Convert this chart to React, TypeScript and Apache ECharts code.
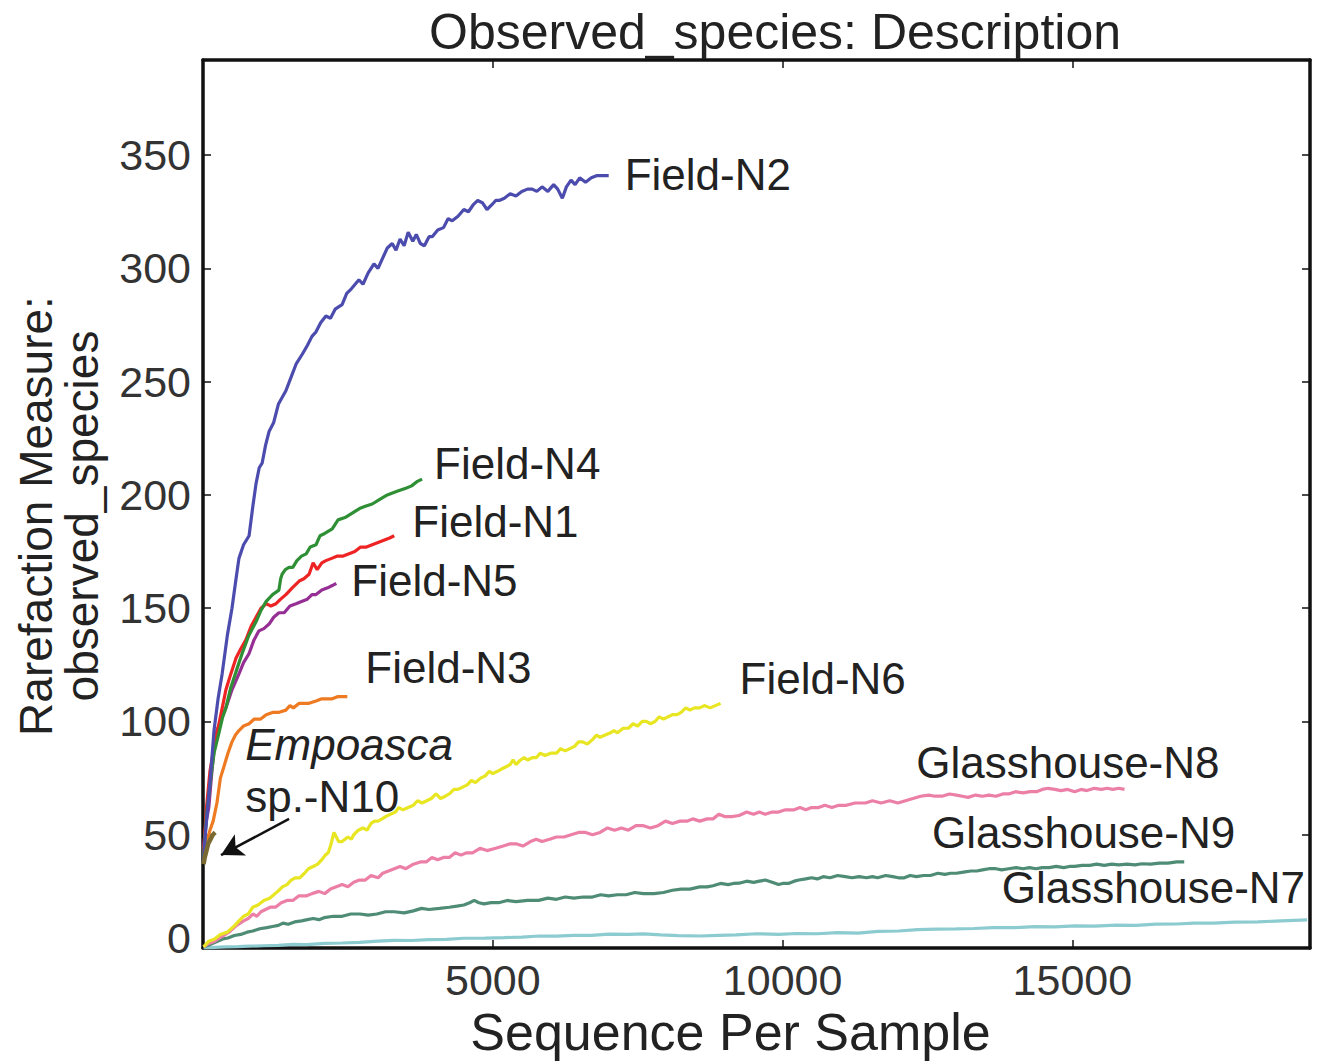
import React, { useEffect, useRef } from "react";
import * as echarts from "echarts";

// ---------- data ----------
const xTicks = [5000, 10000, 15000];
const yTicks = [0, 50, 100, 150, 200, 250, 300, 350];

const fieldN2: number[][] = [
  [10, 38], [40, 50], [80, 62], [130, 76], [190, 96], [260, 110], [330, 121], [420, 138], [500, 150], [570, 163],
  [620, 172], [700, 178], [795, 182], [860, 195], [915, 205], [970, 212], [1020, 214], [1080, 222], [1140, 228],
  [1220, 232], [1300, 240], [1430, 246], [1520, 252], [1610, 258], [1710, 262], [1800, 266], [1880, 270],
  [1950, 272], [2030, 276], [2120, 279], [2200, 278], [2280, 282], [2400, 284], [2480, 289], [2560, 291],
  [2690, 295], [2760, 293], [2850, 298], [2950, 302], [3020, 300], [3090, 304], [3180, 309], [3265, 311],
  [3330, 308], [3400, 313], [3470, 310], [3540, 316], [3620, 312], [3680, 315], [3750, 311], [3820, 310],
  [3900, 314], [3955, 314], [4050, 317], [4150, 318], [4230, 322], [4300, 321], [4400, 323], [4500, 326],
  [4580, 325], [4660, 328], [4740, 330], [4820, 329], [4900, 326], [4980, 328], [5050, 330], [5110, 330],
  [5200, 331], [5300, 333], [5400, 332], [5500, 334], [5600, 335], [5680, 335], [5760, 334], [5850, 336],
  [5950, 334], [6050, 337], [6120, 335], [6200, 331], [6270, 336], [6350, 339], [6420, 337], [6500, 340],
  [6600, 338], [6700, 340], [6800, 341], [6900, 341], [7000, 341],
];
const fieldN4: number[][] = [
  [10, 40], [60, 58], [120, 72], [190, 86], [275, 95], [340, 102], [395, 106], [480, 115], [570, 122], [675, 130],
  [790, 138], [915, 144], [1000, 149], [1090, 153], [1200, 156], [1310, 158], [1340, 163], [1365, 165],
  [1420, 167], [1485, 168], [1550, 168], [1620, 171], [1700, 173], [1780, 174], [1850, 177], [1950, 178],
  [2020, 182], [2100, 183], [2230, 185], [2330, 189], [2450, 190], [2575, 192], [2700, 194], [2800, 195],
  [2920, 196], [3050, 198], [3180, 200], [3280, 201], [3385, 202], [3500, 203], [3600, 204], [3700, 206],
  [3780, 207],
];
const fieldN1: number[][] = [
  [10, 42], [60, 62], [120, 78], [200, 90], [275, 99], [340, 107], [395, 114], [480, 121], [570, 128], [650, 132],
  [740, 136], [830, 142], [915, 146], [1000, 150], [1090, 152], [1170, 151], [1260, 152], [1340, 154],
  [1430, 156], [1540, 159], [1660, 162], [1740, 163], [1830, 165], [1900, 170], [1970, 167], [2050, 170],
  [2120, 171], [2220, 172], [2320, 173], [2420, 173], [2520, 174], [2620, 175], [2720, 177], [2820, 177],
  [2920, 178], [3020, 179], [3120, 180], [3220, 181], [3300, 182],
];
const fieldN5: number[][] = [
  [10, 44], [50, 55], [100, 62], [160, 80], [225, 95], [300, 100], [395, 106], [500, 114], [620, 121], [700, 126],
  [795, 130], [880, 136], [965, 140], [1050, 141], [1140, 143], [1220, 146], [1310, 148], [1400, 148],
  [1500, 151], [1605, 152], [1700, 153], [1800, 154], [1880, 156], [1950, 156], [2050, 158], [2150, 159],
  [2230, 160], [2300, 161],
];
const fieldN3: number[][] = [
  [10, 40], [60, 46], [120, 52], [175, 56], [240, 64], [300, 75], [360, 80], [430, 86], [500, 91], [560, 94],
  [620, 96], [700, 98], [795, 99], [880, 101], [990, 101], [1090, 103], [1200, 104], [1300, 104], [1430, 105],
  [1500, 107], [1560, 106], [1660, 108], [1750, 108], [1830, 108], [1950, 109], [2050, 110], [2150, 110],
  [2230, 110], [2330, 111], [2420, 111], [2490, 111],
];
const empoascaN10: number[][] = [
  [10, 37], [30, 40], [60, 43], [90, 46], [130, 48], [170, 50], [210, 51],
];
const fieldN6: number[][] = [
  [10, 0.5], [100, 3], [200, 4], [300, 6], [420, 7], [550, 10], [620, 12], [700, 14], [780, 15], [860, 18],
  [950, 19], [1050, 21], [1150, 22], [1290, 25], [1370, 27], [1450, 28], [1520, 30], [1590, 31], [1670, 31],
  [1750, 33], [1820, 35], [1900, 36], [1980, 37], [2050, 39], [2110, 41], [2160, 42], [2200, 45], [2230, 48],
  [2260, 51], [2300, 49], [2340, 47], [2400, 47], [2450, 48], [2500, 49], [2560, 48], [2600, 50], [2680, 52],
  [2760, 53], [2830, 52], [2900, 55], [2960, 56], [3020, 56], [3090, 57], [3150, 58], [3230, 59], [3320, 60],
  [3380, 62], [3450, 61], [3540, 62], [3630, 63], [3700, 65], [3780, 64], [3860, 65], [3940, 66], [4020, 68],
  [4100, 66], [4180, 67], [4250, 68], [4330, 70], [4400, 70], [4480, 71], [4560, 72], [4630, 74], [4700, 73],
  [4790, 75], [4870, 76], [4940, 78], [5000, 77], [5080, 78], [5150, 79], [5230, 80], [5300, 81], [5350, 83],
  [5400, 81], [5480, 83], [5540, 84], [5600, 83], [5680, 84], [5750, 84], [5820, 86], [5900, 85], [6000, 86],
  [6100, 86], [6170, 88], [6250, 87], [6330, 88], [6410, 89], [6480, 91], [6550, 91], [6630, 90], [6720, 92],
  [6790, 94], [6850, 93], [6940, 94], [7030, 95], [7090, 96], [7150, 95], [7250, 97], [7340, 97], [7420, 99],
  [7500, 98], [7580, 100], [7650, 100], [7720, 99], [7800, 100], [7870, 102], [7945, 101], [8020, 102],
  [8100, 103], [8180, 103], [8250, 104], [8330, 106], [8400, 105], [8480, 106], [8570, 106], [8650, 107],
  [8750, 106], [8840, 107], [8930, 108],
];
const glassN8: number[][] = [
  [10, 0.5], [100, 2], [200, 3], [320, 5], [450, 7], [580, 10], [700, 12], [780, 13], [860, 15], [930, 14],
  [1000, 16], [1080, 17], [1160, 18], [1250, 18], [1350, 20], [1450, 21], [1550, 21], [1650, 23], [1780, 23],
  [1880, 24], [2000, 25], [2100, 24], [2200, 26], [2300, 27], [2400, 28], [2500, 27], [2600, 29], [2700, 30],
  [2800, 30], [2900, 32], [3020, 31], [3100, 33], [3200, 34], [3300, 35], [3400, 36], [3500, 35], [3630, 37],
  [3750, 38], [3850, 38], [3950, 40], [4050, 39], [4150, 40], [4250, 40], [4350, 42], [4450, 41], [4550, 42],
  [4650, 42], [4780, 44], [4900, 43], [5050, 44], [5180, 45], [5300, 46], [5400, 46], [5520, 45], [5650, 47],
  [5750, 48], [5850, 47], [5980, 48], [6100, 49], [6230, 49], [6350, 50], [6480, 51], [6600, 51], [6720, 50],
  [6850, 51], [6980, 53], [7100, 52], [7220, 53], [7340, 52], [7470, 54], [7600, 54], [7720, 53], [7850, 54],
  [7980, 56], [8100, 55], [8230, 56], [8350, 56], [8450, 57], [8570, 56], [8700, 57], [8800, 57], [8900, 59],
  [9000, 58], [9120, 58], [9250, 58.5], [9380, 60], [9500, 59], [9600, 60], [9700, 59], [9820, 60], [9930, 60],
  [10050, 61], [10200, 61], [10300, 62], [10400, 61], [10500, 62], [10620, 62], [10730, 63], [10850, 62],
  [10970, 63], [11100, 63], [11250, 64], [11430, 64], [11550, 65], [11700, 64], [11850, 65], [11990, 64],
  [12120, 65], [12250, 66], [12380, 67], [12520, 67.5], [12630, 67], [12750, 67], [12880, 68], [13000, 67.5],
  [13100, 67], [13200, 66.5], [13330, 67.5], [13450, 67], [13560, 67.5], [13680, 67], [13800, 68], [13900, 68],
  [14020, 69], [14150, 68.5], [14270, 69], [14380, 69], [14480, 70], [14580, 70.5], [14700, 70], [14800, 69.5],
  [14920, 70], [15040, 69], [15150, 70], [15250, 69.5], [15380, 70.5], [15500, 70], [15600, 70.5], [15700, 70],
  [15800, 70.5], [15900, 70],
];
const glassN9: number[][] = [
  [10, 0.5], [120, 1.5], [250, 3], [340, 4], [430, 4.4], [540, 5.5], [650, 6], [760, 7], [860, 7.5], [980, 8.5],
  [1100, 9], [1200, 9.5], [1300, 10], [1380, 11], [1470, 10.5], [1580, 11.5], [1700, 12], [1800, 12.5],
  [1900, 13], [2000, 12.5], [2090, 13.4], [2250, 14], [2400, 14], [2550, 15], [2710, 15], [2850, 14.5],
  [3000, 15], [3150, 16], [3300, 16], [3470, 15.5], [3630, 16.4], [3770, 17.5], [3900, 17], [4080, 17.5],
  [4250, 18], [4380, 18.5], [4500, 19], [4600, 20], [4680, 21], [4760, 20], [4850, 19.5], [4970, 20],
  [5100, 20], [5250, 21], [5400, 20.5], [5600, 21], [5790, 21], [5950, 22], [6100, 21.5], [6250, 22.5],
  [6400, 22], [6560, 22.5], [6720, 22.5], [6860, 23.5], [7000, 23], [7150, 23.5], [7300, 23.5], [7450, 24.5],
  [7600, 24], [7780, 24], [7945, 24.5], [8100, 25.5], [8250, 26], [8400, 26], [8570, 27], [8700, 27],
  [8800, 27.5], [8930, 28.5], [9060, 28], [9150, 28.5], [9250, 28.6], [9380, 29.5], [9500, 29], [9600, 29.5],
  [9700, 30], [9820, 29], [9930, 28], [10000, 28.5], [10100, 28.5], [10200, 29.5], [10280, 30], [10400, 30.5],
  [10500, 31], [10600, 30.5], [10700, 31.5], [10820, 31], [10950, 32], [11080, 31.5], [11200, 31],
  [11320, 31.5], [11450, 31], [11550, 31.5], [11640, 31], [11780, 32], [11900, 31.5], [12000, 31], [12100, 31],
  [12200, 32], [12310, 31.5], [12430, 32], [12550, 32], [12680, 33], [12800, 32.5], [12900, 33], [13000, 33],
  [13120, 33.5], [13250, 34], [13350, 34], [13450, 34.5], [13560, 35], [13680, 35], [13780, 34.5], [13900, 35],
  [14030, 35.5], [14150, 35], [14260, 35.5], [14370, 35], [14480, 35.5], [14600, 35.5], [14720, 36],
  [14850, 35.5], [14950, 36], [15040, 36], [15170, 36.5], [15300, 36.5], [15420, 37], [15550, 36.5],
  [15680, 37], [15800, 36.7], [15940, 37], [16080, 36.7], [16200, 37.2], [16350, 37], [16500, 37.5],
  [16650, 37.5], [16800, 38], [16930, 38],
];
const glassN7: number[][] = [
  [10, 0], [200, 0.3], [400, 0.5], [600, 0.6], [800, 0.8], [1050, 1], [1300, 1.2], [1550, 1.6], [1780, 1.5],
  [2100, 2], [2400, 2.2], [2700, 2.5], [3020, 3], [3300, 3.4], [3600, 3.3], [3900, 3.7], [4200, 3.8],
  [4500, 4.3], [4870, 4.4], [5200, 4.6], [5500, 4.8], [5800, 5.3], [6100, 5.2], [6400, 5.6], [6700, 5.6],
  [7000, 6.1], [7340, 6], [7600, 6.2], [7900, 5.8], [8200, 5.5], [8570, 5.3], [8900, 5.6], [9200, 5.8],
  [9550, 6.3], [9930, 6], [10250, 6.4], [10600, 6.3], [10950, 6.8], [11300, 6.6], [11650, 7.3], [12000, 7.5],
  [12330, 8.1], [12660, 8.3], [13000, 8.4], [13300, 8.6], [13650, 9], [14020, 9], [14350, 9.4], [14700, 9.3],
  [15050, 9.8], [15390, 9.7], [15750, 10.1], [16100, 10], [16450, 10.5], [16800, 10.6], [17100, 11],
  [17440, 11], [17800, 11.4], [18200, 11.5], [18600, 12], [19050, 12.4],
];
// arrow pointing at Empoasca sp.-N10 (data coordinates)
const arrowFrom = [1485, 57];
const arrowTo = [311, 41];

// ---------- presentation ----------
const FONT = "'Liberation Sans', Arial, Helvetica, sans-serif";
const TEXT = "#222";

type Meta = {
  name: string;
  data: number[][];
  color: string;
  offset: number[];
  align: "left" | "right";
};

const seriesMeta: Meta[] = [
  { name: "Glasshouse-N7", data: glassN7, color: "#8ccbd0", offset: [-2, -32], align: "right" },
  { name: "Glasshouse-N9", data: glassN9, color: "#4f8c76", offset: [51, -29], align: "right" },
  { name: "Glasshouse-N8", data: glassN8, color: "#ec7fa6", offset: [95, -27], align: "right" },
  { name: "Field-N6", data: fieldN6, color: "#e8e622", offset: [19, -25], align: "left" },
  { name: "Field-N3", data: fieldN3, color: "#ee7a22", offset: [18, -29], align: "left" },
  { name: "Field-N5", data: fieldN5, color: "#962f94", offset: [15, -3], align: "left" },
  { name: "Field-N1", data: fieldN1, color: "#ee2424", offset: [18, -14], align: "left" },
  { name: "Field-N4", data: fieldN4, color: "#2f8f35", offset: [12, -16], align: "left" },
  { name: "Field-N2", data: fieldN2, color: "#4c4cae", offset: [16, -1], align: "left" },
];

export default function App() {
  const ref = useRef<HTMLDivElement>(null);

  useEffect(() => {
    document.body.style.margin = "0";
    document.body.style.overflow = "hidden";
    if (!ref.current) return;
    const chart = echarts.init(ref.current, undefined, { renderer: "svg" });

    const X_MAX = 19100;
    const Y_MAX = 392;

    const lineSeries: any[] = seriesMeta.map((m) => ({
      type: "line",
      name: m.name,
      data: m.data,
      showSymbol: false,
      symbol: "none",
      smooth: false,
      lineStyle: { color: m.color, width: 3.2 },
      itemStyle: { color: m.color },
      z: 3,
      endLabel: {
        show: true,
        formatter: m.name,
        distance: 0,
        offset: m.offset,
        align: m.align,
        verticalAlign: "middle",
        color: TEXT,
        fontSize: 44,
        fontFamily: FONT,
      },
    }));

    lineSeries.push({
      type: "line",
      name: "Empoasca sp.-N10",
      data: empoascaN10,
      showSymbol: false,
      symbol: "none",
      lineStyle: { color: "#7a6a32", width: 4.5 },
      z: 4,
      endLabel: {
        show: true,
        formatter: "{i|Empoasca}\n{n|sp.-N10}",
        distance: 0,
        offset: [30, -62],
        align: "left",
        verticalAlign: "middle",
        color: TEXT,
        rich: {
          i: { fontSize: 44, fontStyle: "italic", fontFamily: FONT, color: TEXT, lineHeight: 52 },
          n: { fontSize: 44, fontFamily: FONT, color: TEXT, lineHeight: 52 },
        },
      },
      markLine: {
        silent: true,
        animation: false,
        symbol: ["none", "arrow"],
        symbolSize: [18, 22],
        label: { show: false },
        lineStyle: { color: "#111", width: 2.5, type: "solid" },
        data: [[{ coord: arrowFrom }, { coord: arrowTo }]],
      },
    });

    const axisLine = { show: true, onZero: false, lineStyle: { color: "#111", width: 3.5 } };
    const axisTick = { show: true, inside: true, length: 8, lineStyle: { color: "#111", width: 1.5 } };

    chart.setOption({
      animation: false,
      textStyle: { fontFamily: FONT },
      title: {
        text: "Observed_species: Description",
        left: 424,
        top: 2,
        textStyle: { fontSize: 50, fontWeight: "normal", color: TEXT, fontFamily: FONT },
      },
      grid: { left: 203, right: 11, top: 60, bottom: 116, containLabel: false },
      xAxis: [
        {
          type: "value",
          min: 0,
          max: X_MAX,
          interval: 5000,
          position: "bottom",
          axisLine,
          axisTick,
          splitLine: { show: false },
          axisLabel: {
            fontSize: 43,
            color: "#333",
            margin: 10,
            fontFamily: FONT,
            formatter: (v: number) => (xTicks.includes(v) ? String(v) : ""),
          },
          name: "Sequence Per Sample",
          nameLocation: "middle",
          nameGap: 55,
          nameTextStyle: { fontSize: 52, color: TEXT, fontFamily: FONT, padding: [0, 52, 0, 0] },
        },
        {
          type: "value",
          min: 0,
          max: X_MAX,
          interval: 5000,
          position: "top",
          axisLine,
          axisTick,
          splitLine: { show: false },
          axisLabel: { show: false },
        },
      ],
      yAxis: [
        {
          type: "value",
          min: 0,
          max: Y_MAX,
          interval: 50,
          position: "left",
          axisLine,
          axisTick,
          splitLine: { show: false },
          axisLabel: {
            fontSize: 43,
            color: "#333",
            margin: 12,
            fontFamily: FONT,
            formatter: (v: number) => (v === 0 ? "{z|0}" : yTicks.includes(v) ? String(v) : ""),
            rich: { z: { fontSize: 43, color: "#333", fontFamily: FONT, padding: [0, 0, 20, 0] } },
          },
          name: "Rarefaction Measure:\nobserved_species",
          nameLocation: "middle",
          nameGap: 98,
          nameTextStyle: { fontSize: 46, color: TEXT, fontFamily: FONT, lineHeight: 46, padding: [0, 24, 0, 0] },
        },
        {
          type: "value",
          min: 0,
          max: Y_MAX,
          interval: 50,
          position: "right",
          axisLine,
          axisTick,
          splitLine: { show: false },
          axisLabel: { show: false },
        },
      ],
      series: lineSeries,
    });

    return () => chart.dispose();
  }, []);

  return <div ref={ref} style={{ width: 1321, height: 1064, background: "#fff" }} />;
}
